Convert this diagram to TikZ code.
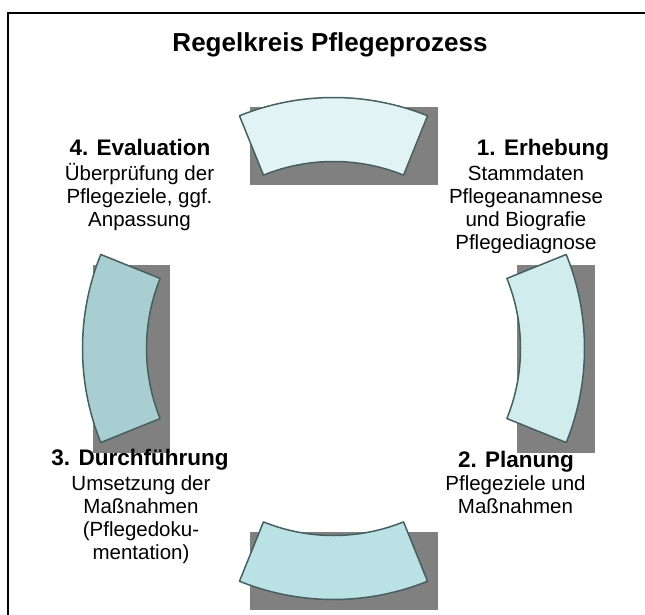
\documentclass[tikz,border=0pt]{standalone}
\usepackage{fontspec}
\setmainfont{Liberation Sans}
\usetikzlibrary{calc}

\definecolor{ringtop}{HTML}{E2F3F3}
\definecolor{ringright}{HTML}{D1ECED}
\definecolor{ringbottom}{HTML}{BAE1E4}
\definecolor{ringleft}{HTML}{A9CED1}
\definecolor{ringline}{HTML}{465F60}
\definecolor{shadowgray}{HTML}{808080}

\tikzset{
  ringpart/.style={draw=ringline, line width=1.5pt, line join=round},
  shadowbox/.style={fill=shadowgray},
  titletext/.style={anchor=base, font=\fontsize{26}{30}\selectfont\bfseries},
  headtext/.style={anchor=base, font=\fontsize{22.5}{26}\selectfont\bfseries},
  bodytext/.style={anchor=base, align=center, font=\fontsize{20.5}{23.3}\selectfont}
}

% one piece of the ring: fill, start angle, end angle
\newcommand{\ringpart}[3]{%
  \draw[ringpart, fill=#1] ($(ctr)+(#2:251pt)$) arc[start angle=#2, end angle=#3, radius=251pt]
    -- ($(ctr)+(#3:187pt)$) arc[start angle=#3, end angle=#2, radius=187pt] -- cycle;}

\begin{document}
\begin{tikzpicture}[x=1pt, y=-1pt]
  \useasboundingbox (0,0) rectangle (645,615);
  \draw[line width=2.2pt] (8,616) -- (8,13) -- (646,13);

  \node[titletext] (title) at (330,52) {Regelkreis Pflegeprozess};

  \coordinate (ctr) at (333.5,348.5);

  % shadows
  \fill[shadowbox] (249.5,107.5) rectangle (437.5,185.1);
  \fill[shadowbox] (516.9,264.5) rectangle (594.5,452.5);
  \fill[shadowbox] (249.5,531.9) rectangle (437.5,609.5);
  \fill[shadowbox] (92.5,264.5) rectangle (170.1,452.5);

  % ring
  \ringpart{ringtop}{68}{112}
  \ringpart{ringright}{-22}{22}
  \ringpart{ringbottom}{248}{292}
  \ringpart{ringleft}{158}{202}

  % 1 (base = last line)
  \node[headtext] (erhebung) at (543,156) {1. Erhebung};
  \begin{scope}
    \clip (400,160) rectangle (645,252.5);
    \node[bodytext] (erhebungtxt) at (526,249.9) {Stammdaten\\Pflegeanamnese\\und Biografie\\Pflegediagnose};
  \end{scope}

  % 2
  \node[headtext] (planung) at (516,467) {2. Planung};
  \node[bodytext] (planungtxt) at (515.5,513.3) {Pflegeziele und\\Maßnahmen};

  % 3
  \node[headtext] (durchf) at (140,465) {3. Durchführung};
  \node[bodytext] (durchftxt) at (141,559.9) {Umsetzung der\\Maßnahmen\\(Pflegedoku-\\mentation)};

  % 4
  \node[headtext] (eval) at (140,156) {4. Evaluation};
  \node[bodytext] (evaltxt) at (139.5,226.6) {Überprüfung der\\Pflegeziele, ggf.\\Anpassung};
\end{tikzpicture}
\end{document}
